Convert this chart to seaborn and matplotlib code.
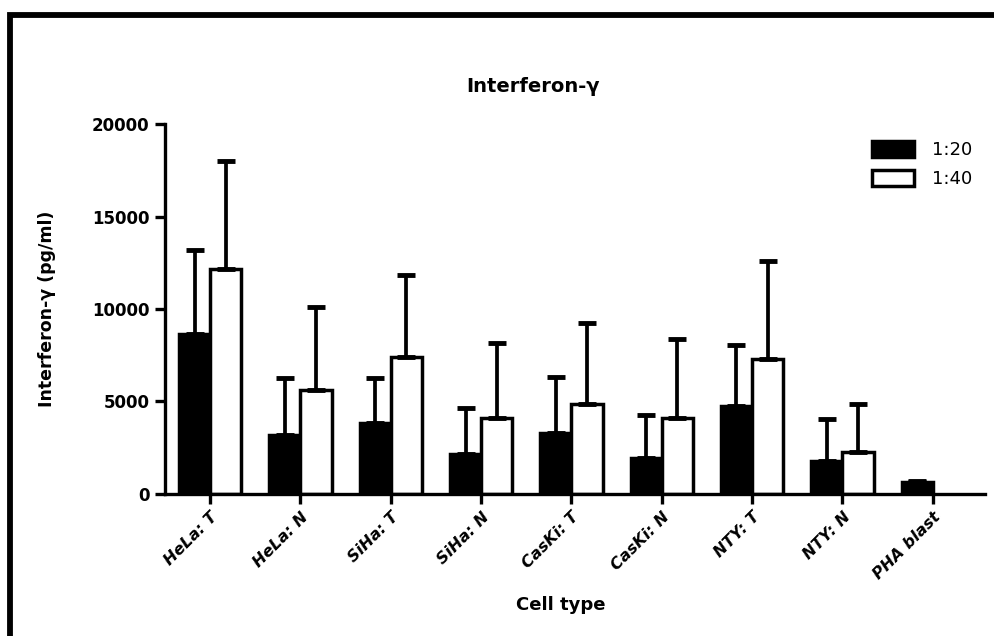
# import libraries
import numpy as np
import pandas as pd
import matplotlib
matplotlib.use('Agg')
import matplotlib.pyplot as plt
from matplotlib.patches import Rectangle
import seaborn as sns

# data
cell_types = ['HeLa: T', 'HeLa: N', 'SiHa: T', 'SiHa: N', 'CasKi: T',
              'CasKi: N', 'NTY: T', 'NTY: N', 'PHA blast']
ratios = ['1:20', '1:40']
mean_1_20 = [8650, 3180, 3860, 2160, 3300, 1920, 4780, 1800, 650]
sd_1_20 = [4550, 3090, 2410, 2490, 3000, 2340, 3270, 2280, 50]
mean_1_40 = [12170, 5640, 7400, 4130, 4890, 4130, 7290, 2250, np.nan]
sd_1_40 = [5850, 4450, 4440, 4040, 4360, 4260, 5300, 2640, np.nan]
y_ticks = [0, 5000, 10000, 15000, 20000]

# long table for seaborn
df = pd.DataFrame({
    'cell': cell_types * 2,
    'ratio': [ratios[0]] * len(cell_types) + [ratios[1]] * len(cell_types),
    'value': mean_1_20 + mean_1_40,
    'sd': sd_1_20 + sd_1_40,
})

sns.set_style('ticks')
plt.rcParams['font.family'] = ['DejaVu Sans']
for key in ['text.color', 'axes.labelcolor', 'xtick.color', 'ytick.color', 'axes.edgecolor']:
    plt.rcParams[key] = 'black'

# create figure and axes
fig = plt.figure(figsize=(9.94, 6.36), dpi=100, facecolor='white')
ax = fig.add_axes([0.166, 0.2233, 0.825, 0.5817])

# barplot
sns.barplot(data=df, x='cell', y='value', hue='ratio', order=cell_types, hue_order=ratios,
            palette={'1:20': 'black', '1:40': 'white'}, edgecolor='black', linewidth=2.5,
            width=0.69, errorbar=None, ax=ax)

# upper error bars, placed on the bars drawn by seaborn
for container, ratio in zip(ax.containers, ratios):
    sub = df[df['ratio'] == ratio].set_index('cell')
    for patch in container:
        i = int(round(patch.get_x() + patch.get_width() / 2))
        row = sub.loc[cell_types[i]]
        if np.isnan(row['value']):
            continue
        ax.errorbar(patch.get_x() + patch.get_width() / 2, row['value'],
                    yerr=[[0], [row['sd']]], fmt='none', ecolor='black',
                    elinewidth=2.7, capsize=6.5, capthick=3.5, zorder=1)

# axes limits and ticks
ax.set_ylim(0, 20000)
ax.set_xlim(-0.5, 8.58)
ax.set_yticks(y_ticks)
ax.set_yticklabels([str(t) for t in y_ticks], fontsize=12, fontweight='bold')
ax.set_xticks(range(len(cell_types)))
ax.set_xticklabels(cell_types, rotation=45, ha='right', rotation_mode='anchor',
                   fontsize=11.5, fontweight='bold', fontstyle='italic')
ax.tick_params(axis='both', direction='out', length=7, width=2.4, color='black', pad=4)

# spines
sns.despine(ax=ax)
for side in ['left', 'bottom']:
    ax.spines[side].set_linewidth(2.4)
    ax.spines[side].set_color('black')

# labels and title
ax.set_xlabel('Cell type', fontsize=13, fontweight='bold')
ax.xaxis.set_label_coords(0.482, -0.275)
ax.set_ylabel('Interferon-γ (pg/ml)', fontsize=12.5, fontweight='bold')
ax.yaxis.set_label_coords(-0.133, 0.5)
fig.text(533 / 994, 1 - 86 / 636, 'Interferon-γ', ha='center', va='center',
         fontsize=14, fontweight='bold')

# legend
handles, labels = ax.get_legend_handles_labels()
ax.legend(handles, labels, loc='upper right', bbox_to_anchor=(972 / 994, 1 - 141 / 636),
          bbox_transform=fig.transFigure, frameon=False, fontsize=13,
          handlelength=2.3, handleheight=0.95, handletextpad=1.0, labelspacing=0.62,
          borderpad=0, borderaxespad=0)

# frame around the picture (only left and top edges visible)
fig.add_artist(Rectangle((9.5 / 994, -0.2), 1.2, 1.2 - 15 / 636, transform=fig.transFigure,
                         fill=False, edgecolor='black', linewidth=4.2, clip_on=False))

# save the image
plt.savefig('out.png', dpi=100, facecolor='white')
